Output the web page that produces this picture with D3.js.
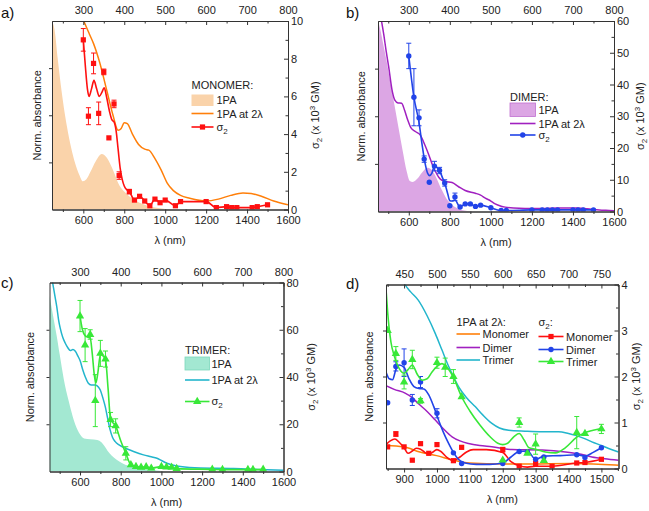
<!DOCTYPE html>
<html><head><meta charset="utf-8">
<script src="https://cdn.jsdelivr.net/npm/d3@7"></script>
<style>body{margin:0;background:#fff}svg text{font-family:"Liberation Sans",Arial,sans-serif}</style>
</head><body><svg id="c" width="649" height="511"></svg>
<script>
// ---------- Panel a (monomer) ----------
const aAbsWl = [447,460,475,490,505,520,540,560,580,598,615,635,660,690,715,745,775,810,850,900,950,1000,1050];
const aAbs   = [1.0,0.95,0.8,0.66,0.54,0.44,0.33,0.245,0.185,0.15,0.16,0.2,0.255,0.295,0.275,0.21,0.13,0.085,0.05,0.025,0.01,0.003,0];
const aTpaWl = [595,610,630,650,680,715,745,770,785,800,815,840,870,900,920,950,980,1010,1040,1075,1120,1200,1260,1320,1380,1420,1470,1530,1600];
const aTpa   = [1.02,0.98,0.93,0.88,0.78,0.63,0.5,0.42,0.43,0.46,0.455,0.4,0.345,0.32,0.315,0.27,0.21,0.14,0.1,0.075,0.06,0.045,0.055,0.075,0.088,0.085,0.07,0.045,0.025];
const aSigWl = [600,625,650,675,700,725,750,775,825,850,875,900,925,950,975,1000,1050,1075,1200,1250,1300,1325,1350,1425,1450,1500];
const aSig   = [9.0,4.95,7.75,5.1,7.3,3.8,5.6,1.8,0.95,0.5,0.7,0.45,0.2,0.55,0.36,0.5,0.2,0.42,0.42,0.1,0.15,0.1,0.1,0.1,0.15,0.25];
const aErr   = [0.6,0.45,0.55,0.6,0.15,0,0.2,0.2,0.12,0,0,0,0,0,0,0,0,0,0,0,0,0,0,0,0,0];
const aFitWl = [600,610,620,628,640,652,665,678,690,702,715,728,740,750,760,770,780,790,800,812,825,850,875,900,925,950,975,1000,1050,1075,1200,1250,1300,1325,1350,1425,1450,1500];
const aFit   = [9.0,7.6,6.4,6.0,6.4,6.85,6.4,6.0,6.2,6.45,5.9,5.2,4.75,4.65,4.2,3.2,2.2,1.6,1.25,1.05,0.95,0.5,0.7,0.45,0.2,0.55,0.36,0.5,0.2,0.42,0.42,0.1,0.15,0.1,0.1,0.1,0.15,0.25];

// ---------- Panel b (dimer) ----------
const bAbsWl = [450,460,475,490,510,530,550,570,590,605,620,640,665,690,710,735,760,785,810,840,870,900];
const bAbs   = [1.0,0.96,0.88,0.8,0.68,0.56,0.44,0.32,0.21,0.16,0.155,0.17,0.205,0.23,0.22,0.175,0.115,0.065,0.035,0.015,0.005,0];
const bTpaWl = [462,478,490,502,518,532,548,565,580,595,610,632,657,680,700,715,730,746,762,778,811,843,875,924,950,973,1000,1021,1050,1070,1110,1167,1250,1329,1420,1491,1560,1600];
const bTpa   = [1.03,0.93,0.84,0.76,0.64,0.585,0.57,0.568,0.53,0.48,0.44,0.42,0.4,0.345,0.29,0.245,0.21,0.18,0.163,0.157,0.152,0.13,0.11,0.096,0.086,0.07,0.055,0.04,0.028,0.023,0.018,0.016,0.016,0.018,0.018,0.012,0.006,0.004];
const bSigWl = [600,625,650,675,700,725,750,775,800,825,850,875,900,925,950,1000,1050,1075,1200,1250,1275,1300,1325,1400,1425,1450,1500];
const bSig   = [49,36,29.5,16.5,9.2,14.3,12.9,9.0,1.8,4.6,1.4,2.4,2.4,1.6,2.0,1.2,0.3,0.3,0.5,0.5,0.5,0.5,0.5,0.5,0.5,0.5,0.5];
const bErr   = [4,9,2.5,1,0,1.5,1,1,0,1.2,0,0,0,0,0,0,0,0,0,0,0,0,0,0,0,0,0];
const bFitWl = [600,625,650,665,680,692,702,712,725,738,750,762,775,790,800,812,825,850,875,900,925,950,1000,1050,1075,1200,1500];
const bFit   = [49,36,28,21,15,12,11.3,12,14.3,13.8,12.9,11,9,5.5,3.4,3.3,3.6,1.4,2.4,2.4,1.6,2.0,1.2,0.3,0.3,0.5,0.5];

// ---------- Panel c (trimer) ----------
const cAbsWl = [450,460,470,485,500,520,545,570,595,620,650,685,705,720,735,755,780,810,860,930,1000];
const cAbs   = [0.93,0.87,0.81,0.72,0.62,0.49,0.37,0.27,0.205,0.175,0.17,0.167,0.155,0.135,0.11,0.085,0.062,0.042,0.024,0.01,0.003];
const cTpaWl = [462,470,478,486,495,503,515,527,540,552,565,576,590,601,613,626,640,655,675,690,700,712,724,736,748,760,773,790,806,835,863,912,950,978,1000,1027,1060,1093,1191,1355,1519,1600];
const cTpa   = [1.02,0.97,0.92,0.87,0.8,0.757,0.71,0.68,0.655,0.64,0.645,0.637,0.61,0.585,0.54,0.5,0.468,0.458,0.458,0.447,0.43,0.39,0.343,0.28,0.22,0.18,0.158,0.142,0.132,0.118,0.106,0.088,0.078,0.07,0.058,0.044,0.033,0.026,0.018,0.016,0.009,0.007];
const cSigWl = [600,625,650,675,700,725,750,775,825,850,875,900,925,950,1000,1025,1050,1075,1250,1300,1425,1450,1500];
const cSig   = [65.8,53.5,58,30,50,47.6,22,19.3,7.7,2.8,2.1,1.8,2.0,1.4,2.1,1.9,1.8,1.2,0.9,0.8,0.8,0.8,0.9];
const cErr   = [6.6,7,2,11,5.5,3.4,3,3,2.8,0,0,0,0,0,0,0,0,0,0,0,0,0,0];
const cFitWl = [600,612,625,640,650,660,670,678,688,700,712,725,738,750,775,800,825,850,875,900,925,950,1000,1025,1050,1075,1250,1300,1425,1450,1500];
const cFit   = [65.8,60,57.5,56.8,56.5,50,41,37.5,42,49.5,49,47.5,35,22,19.3,13,7.7,2.8,2.1,1.8,2.0,1.4,2.1,1.9,1.8,1.2,0.9,0.8,0.8,0.8,0.9];

// ---------- Panel d (zoom, all) ----------
const dMonoAbsWl = [845,898,948,999,1050,1100,1202,1303,1404,1506,1552];
const dMonoAbs   = [0.125,0.118,0.09,0.07,0.045,0.03,0.024,0.025,0.027,0.022,0.018];
const dDimAbsWl  = [845,870,903,925,943,970,995,1020,1046,1070,1096,1130,1167,1228,1320,1391,1430,1471,1510,1552];
const dDimAbs    = [0.45,0.43,0.41,0.385,0.353,0.31,0.263,0.215,0.172,0.15,0.136,0.125,0.118,0.103,0.1,0.09,0.08,0.063,0.053,0.045];
const dTriAbsWl  = [895,903,920,943,970,995,1015,1036,1050,1066,1090,1117,1140,1167,1190,1218,1268,1320,1370,1400,1421,1445,1471,1500,1522,1552];
const dTriAbs    = [1.03,1.0,0.96,0.915,0.83,0.733,0.645,0.553,0.5,0.444,0.385,0.335,0.29,0.245,0.22,0.208,0.203,0.2,0.2,0.19,0.18,0.165,0.145,0.125,0.109,0.09];

const dMonoSigWl = [850,875,900,925,950,975,1000,1050,1075,1200,1250,1300,1350,1425,1450,1500];
const dMonoSig   = [0.47,0.75,0.47,0.18,0.54,0.33,0.52,0.17,0.46,0.41,0.05,0.11,0.05,0.12,0.13,0.2];
const dMonoErr   = [0,0.05,0,0,0,0,0,0,0,0.05,0,0,0,0,0,0];
const dDimSigWl  = [850,875,900,925,950,1000,1050,1075,1200,1250,1275,1300,1325,1425,1450,1500];
const dDimSig    = [1.43,2.22,2.3,1.49,1.88,1.2,0.34,0.11,0.11,0.37,0.36,0.2,0.25,0.3,0.24,0.45];
const dDimErr    = [0,0.1,0.3,0.12,0.12,0.1,0,0,0,0,0,0,0,0,0,0];
const dTriSigWl  = [850,875,900,925,950,1000,1025,1050,1075,1200,1250,1275,1300,1325,1425,1450,1500];
const dTriSig    = [3.0,2.5,1.88,2.37,1.47,2.3,2.2,2.0,1.56,0.18,1.0,0.33,0.53,0.17,0.78,0.76,0.86];
const dTriErr    = [0,0.15,0.15,0.2,0.05,0.12,0.2,0.15,0,0,0.1,0,0.22,0,0.35,0,0.1];

const dMonoFitWl = [845,858,872,885,900,912,925,937,950,963,975,990,1000,1012,1030,1050,1070,1090,1110,1150,1200,1225,1250,1275,1300,1350,1425,1450,1500];
const dMonoFit   = [0.52,0.6,0.64,0.57,0.45,0.33,0.38,0.44,0.42,0.35,0.31,0.37,0.41,0.37,0.24,0.17,0.25,0.36,0.41,0.41,0.35,0.15,0.06,0.03,0.05,0.05,0.12,0.13,0.2];
const dDimFitWl  = [845,855,865,875,885,900,915,930,945,960,975,990,1005,1020,1035,1050,1065,1085,1120,1160,1200,1225,1250,1275,1300,1325,1375,1425,1450,1475,1500];
const dDimFit    = [2.1,1.95,1.93,2.15,2.25,2.2,1.95,1.78,1.74,1.73,1.6,1.35,1.05,0.78,0.55,0.35,0.2,0.12,0.09,0.09,0.12,0.25,0.37,0.38,0.2,0.27,0.28,0.3,0.27,0.35,0.45];
const dTriFitWl  = [845,850,860,870,880,890,900,912,925,940,955,970,985,1000,1015,1030,1050,1075,1100,1130,1160,1185,1200,1215,1235,1250,1265,1280,1300,1330,1360,1390,1425,1450,1475,1500];
const dTriFit    = [3.9,3.4,2.75,2.45,2.25,2.12,2.07,2.15,2.25,2.05,1.92,1.95,2.1,2.22,2.28,2.2,1.98,1.56,1.25,0.95,0.7,0.55,0.52,0.55,0.7,0.76,0.62,0.45,0.42,0.36,0.34,0.45,0.68,0.78,0.83,0.87];

// ---------- Axis ticks ----------
const wideBottomMajor = [600,800,1000,1200,1400,1600];
const wideBottomMinor = [500,700,900,1100,1300,1500];
const wideTopMajor = [300,400,500,600,700,800];
const wideTopMinor = [250,350,450,550,650,750];
const dBottomMajor = [900,1000,1100,1200,1300,1400,1500];
const dBottomMinor = [850,950,1050,1150,1250,1350,1450,1550];
const dTopMajor = [450,500,550,600,650,700,750];
const dTopMinor = [425,475,525,575,625,675,725,775];

// ---------- Colors ----------
const C = {
  peach:'#FAD3AA', orange:'#FF7F0A', red:'#FF1010',
  lilac:'#DCA6E4', purple:'#A020C0', blue:'#2244E8',
  mint:'#A3E8D2', teal:'#22B5CC', green:'#38E838'
};

const svg = d3.select('#c');
const FONT = '"Liberation Sans",Arial,sans-serif';
const zip = (a,b) => a.map((v,i)=>[v,b[i]]);
const fmt = d => String(d);

function marker(sel, type, color){
  if(type==='square') return sel.append('rect').attr('x',-2.6).attr('y',-2.6).attr('width',5.2).attr('height',5.2).attr('fill',color);
  if(type==='circle') return sel.append('circle').attr('r',2.7).attr('fill',color);
  return sel.append('path').attr('d',d3.symbol(d3.symbolTriangle).size(30)()).attr('fill',color);
}

function sigmaText(extra, x, y){
  const tx = svg.append('text').attr('x',x).attr('y',y).attr('font-size',11).attr('fill','#222').attr('font-family',FONT);
  tx.append('tspan').text('σ');
  tx.append('tspan').text('2').attr('font-size',8).attr('dy',3);
  if(extra) tx.append('tspan').text(extra).attr('dy',-3);
  return tx;
}

function panel(p){
  const x = d3.scaleLinear().domain(p.xDom).range([p.l,p.r]);
  const xt = d3.scaleLinear().domain([p.xDom[0]/2,p.xDom[1]/2]).range([p.l,p.r]);
  const yL = d3.scaleLinear().domain([0,1]).range([p.b,p.t]);
  const yR = d3.scaleLinear().domain(p.yDom).range([p.b,p.t]);
  const g = svg.append('g');
  g.append('clipPath').attr('id','clip'+p.id).append('rect')
    .attr('x',p.l).attr('y',p.t).attr('width',p.r-p.l).attr('height',p.b-p.t);
  const plot = g.append('g').attr('clip-path',`url(#clip${p.id})`);

  (p.fills||[]).forEach(f=>{
    plot.append('path').datum(zip(f.wl,f.v))
      .attr('d',d3.area().x(d=>x(d[0])).y0(yL(0)).y1(d=>yL(d[1])).curve(d3.curveMonotoneX))
      .attr('fill',f.color);
  });
  (p.absLines||[]).forEach(f=>{
    plot.append('path').datum(zip(f.wl,f.v))
      .attr('d',d3.line().x(d=>x(d[0])).y(d=>yL(d[1])).curve(d3.curveMonotoneX))
      .attr('fill','none').attr('stroke',f.color).attr('stroke-width',1.5);
  });
  (p.sig||[]).forEach(s=>{
    plot.append('path').datum(zip(s.fitWl,s.fit))
      .attr('d',d3.line().x(d=>x(d[0])).y(d=>yR(d[1])).curve(d3.curveMonotoneX))
      .attr('fill','none').attr('stroke',s.color).attr('stroke-width',1.6);
    s.wl.forEach((w,i)=>{
      const e = s.err[i], v = s.v[i];
      if(e>0){
        const eg = plot.append('g').attr('stroke',s.color).attr('stroke-width',1);
        eg.append('line').attr('x1',x(w)).attr('x2',x(w)).attr('y1',yR(v-e)).attr('y2',yR(v+e));
        eg.append('line').attr('x1',x(w)-2.5).attr('x2',x(w)+2.5).attr('y1',yR(v-e)).attr('y2',yR(v-e));
        eg.append('line').attr('x1',x(w)-2.5).attr('x2',x(w)+2.5).attr('y1',yR(v+e)).attr('y2',yR(v+e));
      }
      const mg = plot.append('g').attr('transform',`translate(${x(w)},${yR(v)})`);
      marker(mg, s.marker, s.color);
    });
  });

  const styleAx = a => { a.attr('font-family',FONT).attr('font-size',11).attr('color','#333');
    a.selectAll('text').attr('fill','#222'); };
  // bottom
  styleAx(g.append('g').attr('transform',`translate(0,${p.b})`)
    .call(d3.axisBottom(x).tickValues(p.bMaj).tickFormat(fmt).tickSize(4).tickSizeOuter(0).tickPadding(3)));
  g.append('g').attr('transform',`translate(0,${p.b})`).attr('color','#333')
    .call(d3.axisBottom(x).tickValues(p.bMin).tickSize(2.5).tickSizeOuter(0).tickFormat(''));
  // top
  styleAx(g.append('g').attr('transform',`translate(0,${p.t})`)
    .call(d3.axisTop(xt).tickValues(p.tMaj).tickFormat(fmt).tickSize(-4).tickSizeOuter(0).tickPadding(7)));
  g.append('g').attr('transform',`translate(0,${p.t})`).attr('color','#333')
    .call(d3.axisTop(xt).tickValues(p.tMin).tickSize(-2.5).tickSizeOuter(0).tickFormat(''));
  // left
  g.append('g').attr('transform',`translate(${p.l},0)`).attr('color','#333')
    .call(d3.axisLeft(yL).tickValues([0.25,0.5,0.75]).tickSize(3).tickSizeOuter(0).tickFormat(''));
  // right
  styleAx(g.append('g').attr('transform',`translate(${p.r},0)`)
    .call(d3.axisRight(yR).tickValues(p.rMaj).tickFormat(fmt).tickSize(-4).tickSizeOuter(0).tickPadding(3)));
  g.append('g').attr('transform',`translate(${p.r},0)`).attr('color','#333')
    .call(d3.axisRight(yR).tickValues(p.rMin).tickSize(-2.5).tickSizeOuter(0).tickFormat(''));

  // titles
  const cx = (p.l+p.r)/2, cy = (p.t+p.b)/2;
  svg.append('text').attr('x',cx).attr('y',p.b+34).attr('text-anchor','middle')
    .attr('font-size',11).attr('fill','#222').attr('font-family',FONT).text('λ (nm)');
  svg.append('text').attr('transform',`translate(${p.leftTitleX},${cy}) rotate(-90)`).attr('text-anchor','middle')
    .attr('font-size',11).attr('fill','#222').attr('font-family',FONT).text('Norm. absorbance');
  const rt = svg.append('text').attr('transform',`translate(${p.rightTitleX},${cy}) rotate(-90)`).attr('text-anchor','middle')
    .attr('font-size',11).attr('fill','#222').attr('font-family',FONT);
  rt.append('tspan').text('σ');
  rt.append('tspan').text('2').attr('font-size',8).attr('dy',3);
  rt.append('tspan').text(' (x 10').attr('dy',-3);
  rt.append('tspan').text('3').attr('font-size',8).attr('dy',-4);
  rt.append('tspan').text(' GM)').attr('dy',4);
  svg.append('text').attr('x',p.labX).attr('y',p.labY).attr('font-size',15).attr('fill','#111')
    .attr('font-family',FONT).text(p.id+')');
}

// Panel a
panel({id:'a', l:52, r:288, t:21, b:209.5, xDom:[447,1600], yDom:[0,10],
  bMaj:wideBottomMajor, bMin:wideBottomMinor, tMaj:wideTopMajor, tMin:wideTopMinor,
  rMaj:[0,2,4,6,8,10], rMin:[1,3,5,7,9], leftTitleX:41, rightTitleX:319, labX:1, labY:18,
  fills:[{wl:aAbsWl,v:aAbs,color:C.peach}],
  absLines:[{wl:aTpaWl,v:aTpa,color:C.orange}],
  sig:[{wl:aSigWl,v:aSig,err:aErr,fitWl:aFitWl,fit:aFit,color:C.red,marker:'square'}]});
// Panel b
panel({id:'b', l:378, r:614, t:21, b:211.5, xDom:[450,1600], yDom:[0,60],
  bMaj:wideBottomMajor, bMin:wideBottomMinor, tMaj:wideTopMajor, tMin:wideTopMinor,
  rMaj:[0,10,20,30,40,50,60], rMin:[5,15,25,35,45,55], leftTitleX:365, rightTitleX:644, labX:346, labY:18,
  fills:[{wl:bAbsWl,v:bAbs,color:C.lilac}],
  absLines:[{wl:bTpaWl,v:bTpa,color:C.purple}],
  sig:[{wl:bSigWl,v:bSig,err:bErr,fitWl:bFitWl,fit:bFit,color:C.blue,marker:'circle'}]});
// Panel c
panel({id:'c', l:49.5, r:283.5, t:282.5, b:471.5, xDom:[450,1600], yDom:[0,80],
  bMaj:wideBottomMajor, bMin:wideBottomMinor, tMaj:wideTopMajor, tMin:wideTopMinor,
  rMaj:[0,20,40,60,80], rMin:[10,30,50,70], leftTitleX:34, rightTitleX:315, labX:1, labY:288,
  fills:[{wl:cAbsWl,v:cAbs,color:C.mint}],
  absLines:[{wl:cTpaWl,v:cTpa,color:C.teal}],
  sig:[{wl:cSigWl,v:cSig,err:cErr,fitWl:cFitWl,fit:cFit,color:C.green,marker:'triangle'}]});
// Panel d
panel({id:'d', l:386, r:618.5, t:284.5, b:468.5, xDom:[845,1552], yDom:[0,4],
  bMaj:dBottomMajor, bMin:dBottomMinor, tMaj:dTopMajor, tMin:dTopMinor,
  rMaj:[0,1,2,3,4], rMin:[0.5,1.5,2.5,3.5], leftTitleX:373, rightTitleX:640, labX:346, labY:289,
  absLines:[{wl:dMonoAbsWl,v:dMonoAbs,color:C.orange},{wl:dDimAbsWl,v:dDimAbs,color:C.purple},{wl:dTriAbsWl,v:dTriAbs,color:C.teal}],
  sig:[{wl:dMonoSigWl,v:dMonoSig,err:dMonoErr,fitWl:dMonoFitWl,fit:dMonoFit,color:C.red,marker:'square'},
       {wl:dDimSigWl,v:dDimSig,err:dDimErr,fitWl:dDimFitWl,fit:dDimFit,color:C.blue,marker:'circle'},
       {wl:dTriSigWl,v:dTriSig,err:dTriErr,fitWl:dTriFitWl,fit:dTriFit,color:C.green,marker:'triangle'}]});

// ---------- Legends ----------
function txt(x,y,s){ return svg.append('text').attr('x',x).attr('y',y).attr('font-size',11).attr('fill','#222').attr('font-family',FONT).text(s); }
function legLine(x1,x2,y,color){ svg.append('line').attr('x1',x1).attr('x2',x2).attr('y1',y).attr('y2',y).attr('stroke',color).attr('stroke-width',1.6); }
function legSig(x1,x2,y,color,type){ legLine(x1,x2,y,color); marker(svg.append('g').attr('transform',`translate(${(x1+x2)/2},${y})`),type,color); }
function legSwatch(x,y,w,h,color,stroke){ svg.append('rect').attr('x',x).attr('y',y).attr('width',w).attr('height',h).attr('fill',color).attr('stroke',stroke||'none').attr('stroke-width',0.8); }

// a
txt(191.5,89,'MONOMER:');
legSwatch(191.5,94.5,22,11.5,C.peach);
txt(216.5,104,'1PA');
legLine(191.5,213.5,113.5,C.orange); txt(216.5,117.5,'1PA at 2λ');
legSig(191.5,213.5,127,C.red,'square'); sigmaText(null,216.5,130.5);
// b
txt(510,100.5,'DIMER:');
legSwatch(510,103,25.5,13.5,C.lilac,'#C070D0');
txt(538.5,114,'1PA');
legLine(510,535.5,123.5,C.purple); txt(538.5,127.5,'1PA at 2λ');
legSig(510,535.5,135,C.blue,'circle'); sigmaText(null,538.5,138.5);
// c
txt(185,354,'TRIMER:');
legSwatch(185,357,24.5,13,C.mint,'#7CD8BC');
txt(211.5,367.5,'1PA');
legLine(185,209.5,380,C.teal); txt(211.5,384,'1PA at 2λ');
legSig(185,209.5,401.5,C.green,'triangle'); sigmaText(null,211.5,405);
// d
txt(456.5,325.5,'1PA at 2λ:');
sigmaText(':',538.5,325.5);
legLine(456.5,480,334,C.orange); txt(482.5,338,'Monomer');
legLine(456.5,480,347.5,C.purple); txt(482.5,351.5,'Dimer');
legLine(456.5,480,360,C.teal); txt(482.5,364,'Trimer');
legSig(538.5,563.5,336.5,C.red,'square'); txt(566,340.5,'Monomer');
legSig(538.5,563.5,349.5,C.blue,'circle'); txt(566,353.5,'Dimer');
legSig(538.5,563.5,361.5,C.green,'triangle'); txt(566,365.5,'Trimer');
</script></body></html>
